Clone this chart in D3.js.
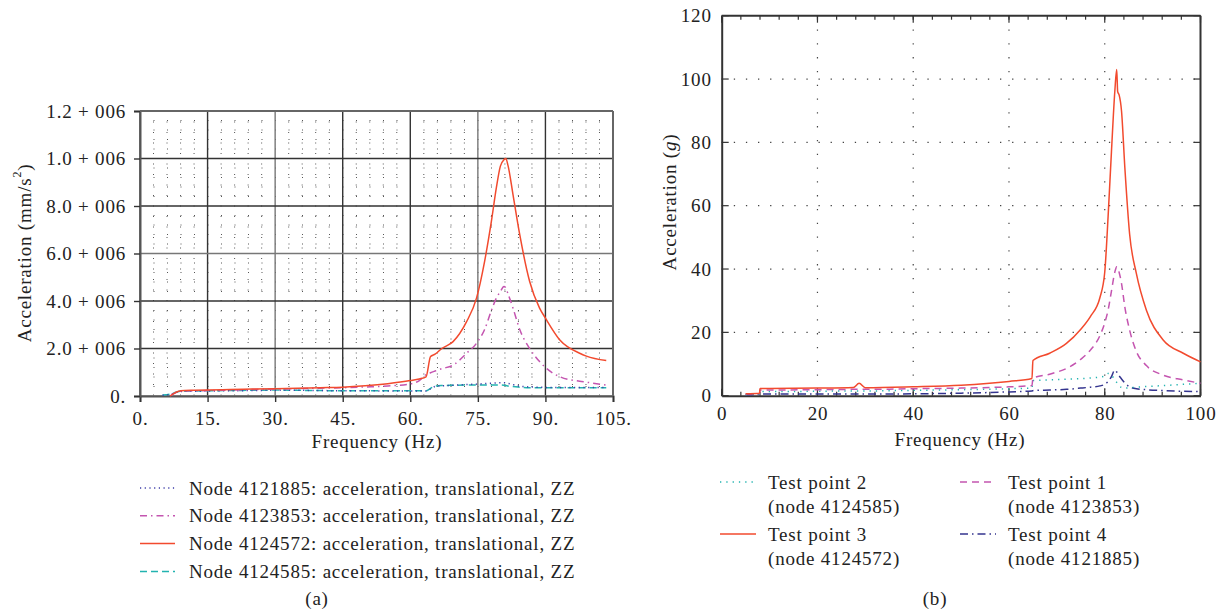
<!DOCTYPE html>
<html>
<head>
<meta charset="utf-8">
<script src="https://cdn.jsdelivr.net/npm/d3@7"></script>
<style>
  body { margin: 0; background: #fff; }
  svg { display: block; }
  text { font-family: "Liberation Serif", "Times New Roman", serif; fill: #222; }
</style>
</head>
<body>
<svg id="chart" width="1224" height="611"></svg>
<script>
// ---- data, panel (a) : frequency in Hz, acceleration in units of the top tick
const freqA = [5, 6.7, 8, 9, 12, 15, 20, 25, 30, 35, 40, 45, 50, 55, 60, 62, 63.5, 64.5, 65.5, 67, 69.5, 72.5,
  74.7, 76.5, 78, 79.1, 80, 80.8, 81.2, 81.7, 82.8, 84.3, 86.5, 88.7, 90, 93.2, 97.6, 99.1, 103.5];
const node4124572 = [null, 0, 0.016, 0.022, 0.024, 0.025, 0.027, 0.029, 0.031, 0.033, 0.035, 0.037, 0.043, 0.052,
  0.065, 0.072, 0.081, 0.166, 0.176, 0.2, 0.229, 0.313, 0.412, 0.567, 0.735, 0.876, 0.968, 0.995, 1.0, 0.97,
  0.848, 0.679, 0.482, 0.37, 0.328, 0.236, 0.18, 0.168, 0.149];
const node4123853 = [null, 0, 0.015, 0.02, 0.022, 0.023, 0.025, 0.027, 0.029, 0.031, 0.033, 0.035, 0.038, 0.042,
  0.051, 0.065, 0.09, 0.098, 0.105, 0.115, 0.13, 0.18, 0.222, 0.28, 0.36, 0.412, 0.44, 0.461, 0.455, 0.43,
  0.37, 0.28, 0.2, 0.145, 0.12, 0.081, 0.062, 0.058, 0.046];
const node4124585 = [0.004, 0.008, 0.016, 0.02, 0.021, 0.022, 0.023, 0.024, 0.025, 0.024, 0.023, 0.022, 0.022,
  0.022, 0.022, 0.022, 0.022, 0.032, 0.042, 0.044, 0.045, 0.046, 0.046, 0.046, 0.046, 0.046, 0.046, 0.045,
  0.044, 0.042, 0.04, 0.037, 0.035, 0.035, 0.035, 0.035, 0.035, 0.035, 0.035];
const node4121885 = [0.003, 0.007, 0.015, 0.019, 0.02, 0.021, 0.022, 0.023, 0.024, 0.024, 0.023, 0.022, 0.022,
  0.021, 0.021, 0.021, 0.021, 0.03, 0.04, 0.043, 0.045, 0.048, 0.05, 0.052, 0.054, 0.055, 0.056, 0.056,
  0.055, 0.053, 0.048, 0.042, 0.038, 0.037, 0.036, 0.036, 0.036, 0.036, 0.036];
const xTicksA = [0, 15, 30, 45, 60, 75, 90, 105];
const xLabelsA = ["0.", "15.", "30.", "45.", "60.", "75.", "90.", "105."];
const yTicksA = [0, 0.2, 0.4, 0.6, 0.8, 1.0, 1.2];
const yLabelsA = ["0.", "2.0 + 006", "4.0 + 006", "6.0 + 006", "8.0 + 006", "1.0 + 006", "1.2 + 006"];

// ---- data, panel (b) : frequency in Hz, acceleration in g
const freqB = [5, 7.9, 8, 10, 20, 27.5, 28.7, 30, 40, 50, 60, 64.8, 65, 68.5, 72, 75, 77, 79, 80, 80.7, 81.4,
  82.1, 82.5, 82.7, 83, 83.5, 84.2, 85.2, 86.6, 88.7, 92.2, 96.4, 100];
const testPoint3 = [0.6, 0.8, 2.3, 2.3, 2.4, 2.6, 3.9, 2.5, 2.8, 3.3, 4.5, 5.4, 11.1, 13.4, 16.5, 21, 25, 31,
  39, 56.5, 77, 96, 103, 96, 95, 90, 72, 51, 38.6, 27, 17.6, 13.4, 10.7];
const testPoint1 = [0.5, 0.7, 1.8, 1.8, 1.9, 2.0, 2.0, 2.0, 2.2, 2.4, 2.8, 3.2, 5.5, 6.8, 8.6, 11.5, 14.4, 19,
  23, 27, 33, 39, 40.7, 40.5, 39, 35.5, 28, 20.7, 14, 9.5, 6.5, 5.0, 3.9];
const testPoint2 = [0.4, 0.5, 1.3, 1.3, 1.4, 1.5, 1.5, 1.5, 1.7, 1.9, 2.2, 2.4, 4.8, 5.0, 5.2, 5.4, 5.6, 5.9,
  6.2, 7.0, 6.5, 5.0, 4.2, 3.8, 3.2, 2.6, 2.4, 2.5, 2.7, 2.9, 3.2, 3.6, 3.9];
const testPoint4 = [0.3, 0.4, 0.5, 0.5, 0.5, 0.5, 0.5, 0.5, 0.6, 0.8, 1.2, 1.5, 1.6, 1.8, 2.0, 2.4, 2.7, 3.1,
  3.6, 4.5, 6.0, 8.1, 7.5, 7.0, 6.3, 5.3, 4.0, 2.8, 2.2, 1.9, 1.6, 1.4, 1.3];
const xTicksB = [0, 20, 40, 60, 80, 100];
const yTicksB = [0, 20, 40, 60, 80, 100, 120];

const RED = "#f24a2e", MAGENTA = "#c455b0", TEAL = "#22b3b0", BLUE = "#3d3da8", NAVY = "#34348f";

const svg = d3.select("#chart");
const FS = 19;
function txt(g, x, y, s, anchor) {
  return g.append("text").attr("x", x).attr("y", y).attr("text-anchor", anchor || "start")
    .attr("dominant-baseline", "central").attr("font-size", FS).attr("letter-spacing", 0.8).text(s);
}

// ================= panel (a) =================
const xA = d3.scaleLinear().domain([0, 105]).range([140, 613]);
const yA = d3.scaleLinear().domain([0, 1.2]).range([396, 111]);
const gA = svg.append("g");

// minor dotted grid
const minorX = d3.range(0, 105.01, 3).filter(v => v % 15 !== 0);
const minorY = d3.range(0, 1.2001, 0.04).filter((v, i) => i % 5 !== 0);
gA.append("g").selectAll("line").data(minorX).join("line")
  .attr("x1", d => xA(d)).attr("x2", d => xA(d)).attr("y1", yA(1.2)).attr("y2", yA(0))
  .attr("stroke", "#555").attr("stroke-width", 1).attr("stroke-dasharray", "1,9.5");
gA.append("g").selectAll("line").data(minorY).join("line")
  .attr("x1", xA(0)).attr("x2", xA(105)).attr("y1", d => yA(d)).attr("y2", d => yA(d))
  .attr("stroke", "#555").attr("stroke-width", 1).attr("stroke-dasharray", "1,12.5");
// major solid grid
gA.append("g").selectAll("line").data(xTicksA).join("line")
  .attr("x1", d => xA(d)).attr("x2", d => xA(d)).attr("y1", yA(1.2)).attr("y2", yA(0))
  .attr("stroke", (d, i) => i % 3 === 2 ? "#777" : "#333").attr("stroke-width", 1.4);
gA.append("g").selectAll("line").data(yTicksA).join("line")
  .attr("x1", xA(0)).attr("x2", xA(105)).attr("y1", d => yA(d)).attr("y2", d => yA(d))
  .attr("stroke", (d, i) => i % 3 === 0 ? "#777" : "#333").attr("stroke-width", 1.4);

// axes
const axA = gA.append("g").attr("transform", `translate(0,${yA(0)})`)
  .call(d3.axisBottom(xA).tickValues(xTicksA).tickFormat((d, i) => xLabelsA[i]).tickSize(6).tickPadding(10));
const ayA = gA.append("g").attr("transform", `translate(${xA(0)},0)`)
  .call(d3.axisLeft(yA).tickValues(yTicksA).tickFormat((d, i) => yLabelsA[i]).tickSize(6).tickPadding(8));
[axA, ayA].forEach(a => {
  a.select(".domain").attr("stroke", "#555").attr("stroke-width", 2);
  a.selectAll(".tick line").attr("stroke", "#333").attr("stroke-width", 1.4);
  a.selectAll(".tick text").attr("font-size", FS).attr("letter-spacing", 0.8)
    .attr("font-family", "Liberation Serif").attr("fill", "#222");
});
gA.append("line").attr("x1", xA(0)).attr("x2", xA(105)).attr("y1", yA(1.2)).attr("y2", yA(1.2))
  .attr("stroke", "#666").attr("stroke-width", 2);
gA.append("line").attr("x1", xA(105)).attr("x2", xA(105)).attr("y1", yA(1.2)).attr("y2", yA(0))
  .attr("stroke", "#666").attr("stroke-width", 2);

const seriesA = [
  { vals: node4121885, color: BLUE, dash: "1.2,3.5", name: "Node 4121885: acceleration, translational, ZZ" },
  { vals: node4123853, color: MAGENTA, dash: "7,4,1.5,4", name: "Node 4123853: acceleration, translational, ZZ" },
  { vals: node4124572, color: RED, dash: null, name: "Node 4124572: acceleration, translational, ZZ" },
  { vals: node4124585, color: TEAL, dash: "7,4", name: "Node 4124585: acceleration, translational, ZZ" }
];
const lineA = d3.line().defined(d => d[1] !== null).x(d => xA(d[0])).y(d => yA(d[1])).curve(d3.curveMonotoneX);
[seriesA[3], seriesA[0], seriesA[1], seriesA[2]].forEach(s => {
  gA.append("path").datum(freqA.map((f, i) => [f, s.vals[i]]))
    .attr("d", lineA).attr("fill", "none").attr("stroke", s.color).attr("stroke-width", 1.5)
    .attr("stroke-dasharray", s.dash);
});

const ylabA = gA.append("text").attr("transform", "translate(24,253) rotate(-90)")
  .attr("text-anchor", "middle").attr("dominant-baseline", "central").attr("font-size", FS).attr("letter-spacing", 0.8);
ylabA.append("tspan").text("Acceleration (mm/s");
ylabA.append("tspan").attr("font-size", 12).attr("dy", -7).text("2");
ylabA.append("tspan").attr("dy", 7).text(")");
txt(gA, 377, 441, "Frequency (Hz)", "middle");

// legend (a)
seriesA.forEach((s, i) => {
  const y = 488 + i * 27.8;
  gA.append("line").attr("x1", 140).attr("x2", 175).attr("y1", y).attr("y2", y)
    .attr("stroke", s.color).attr("stroke-width", 1.5).attr("stroke-dasharray", s.dash);
  txt(gA, 189, y, s.name);
});
txt(gA, 317, 598, "(a)", "middle");

// ================= panel (b) =================
const xB = d3.scaleLinear().domain([0, 100]).range([721.7, 1200.5]);
const yB = d3.scaleLinear().domain([0, 120]).range([395.7, 15.7]);
const gB = svg.append("g");

// dotted major grid
gB.append("g").selectAll("line").data(xTicksB.slice(1, -1)).join("line")
  .attr("x1", d => xB(d)).attr("x2", d => xB(d)).attr("y1", yB(120)).attr("y2", yB(0))
  .attr("stroke", "#444").attr("stroke-width", 1.2).attr("stroke-dasharray", "1.3,12.5");
gB.append("g").selectAll("line").data(yTicksB.slice(1, -1)).join("line")
  .attr("x1", xB(0)).attr("x2", xB(100)).attr("y1", d => yB(d)).attr("y2", d => yB(d))
  .attr("stroke", "#444").attr("stroke-width", 1.2).attr("stroke-dasharray", "1.3,10.8");

// inward ticks on all sides
const minorB = d3.range(0, 100.01, 4);
[[yB(0), -1], [yB(120), 1]].forEach(([y0, dir]) => {
  gB.append("g").selectAll("line").data(minorB).join("line")
    .attr("x1", d => xB(d)).attr("x2", d => xB(d)).attr("y1", y0).attr("y2", y0 + dir * 4)
    .attr("stroke", "#333").attr("stroke-width", 1.2);
  gB.append("g").selectAll("line").data(xTicksB).join("line")
    .attr("x1", d => xB(d)).attr("x2", d => xB(d)).attr("y1", y0).attr("y2", y0 + dir * 7)
    .attr("stroke", "#333").attr("stroke-width", 1.2);
});
[[xB(0), 1], [xB(100), -1]].forEach(([x0, dir]) => {
  gB.append("g").selectAll("line").data(yTicksB).join("line")
    .attr("x1", x0).attr("x2", x0 + dir * 7).attr("y1", d => yB(d)).attr("y2", d => yB(d))
    .attr("stroke", "#333").attr("stroke-width", 1.2);
});

const axB = gB.append("g").attr("transform", `translate(0,${yB(0)})`)
  .call(d3.axisBottom(xB).tickValues(xTicksB).tickSize(0).tickPadding(11));
const ayB = gB.append("g").attr("transform", `translate(${xB(0)},0)`)
  .call(d3.axisLeft(yB).tickValues(yTicksB).tickSize(0).tickPadding(10));
[axB, ayB].forEach(a => {
  a.select(".domain").attr("stroke", "#333").attr("stroke-width", 2);
  a.selectAll(".tick text").attr("font-size", FS).attr("letter-spacing", 0.8)
    .attr("font-family", "Liberation Serif").attr("fill", "#222");
});
gB.append("line").attr("x1", xB(0)).attr("x2", xB(100)).attr("y1", yB(120)).attr("y2", yB(120))
  .attr("stroke", "#333").attr("stroke-width", 2);
gB.append("line").attr("x1", xB(100)).attr("x2", xB(100)).attr("y1", yB(120)).attr("y2", yB(0))
  .attr("stroke", "#333").attr("stroke-width", 2);

const seriesB = [
  { vals: testPoint2, color: TEAL, dash: "1.3,5", t1: "Test point 2", t2: "(node 4124585)" },
  { vals: testPoint1, color: MAGENTA, dash: "7,5", t1: "Test point 1", t2: "(node 4123853)" },
  { vals: testPoint3, color: RED, dash: null, t1: "Test point 3", t2: "(node 4124572)" },
  { vals: testPoint4, color: NAVY, dash: "8,4,1.5,4", t1: "Test point 4", t2: "(node 4121885)" }
];
const lineB = d3.line().x(d => xB(d[0])).y(d => yB(d[1])).curve(d3.curveMonotoneX);
[seriesB[3], seriesB[0], seriesB[1], seriesB[2]].forEach(s => {
  gB.append("path").datum(freqB.map((f, i) => [f, s.vals[i]]))
    .attr("d", lineB).attr("fill", "none").attr("stroke", s.color).attr("stroke-width", 1.5)
    .attr("stroke-dasharray", s.dash);
});

const ylabB = gB.append("text").attr("transform", "translate(669,202) rotate(-90)")
  .attr("text-anchor", "middle").attr("dominant-baseline", "central").attr("font-size", FS).attr("letter-spacing", 0.8);
ylabB.append("tspan").text("Acceleration (");
ylabB.append("tspan").attr("font-style", "italic").text("g");
ylabB.append("tspan").text(")");
txt(gB, 960, 439, "Frequency (Hz)", "middle");

// legend (b), two columns
seriesB.forEach((s, i) => {
  const col = i % 2, row = Math.floor(i / 2);
  const lx = col === 0 ? 720 : 960, y = 482 + row * 52;
  gB.append("line").attr("x1", lx).attr("x2", lx + 36).attr("y1", y).attr("y2", y)
    .attr("stroke", s.color).attr("stroke-width", 1.5).attr("stroke-dasharray", s.dash);
  txt(gB, lx + 48, y, s.t1);
  txt(gB, lx + 48, y + 24, s.t2);
});
txt(gB, 935, 598, "(b)", "middle");
</script>
</body>
</html>
